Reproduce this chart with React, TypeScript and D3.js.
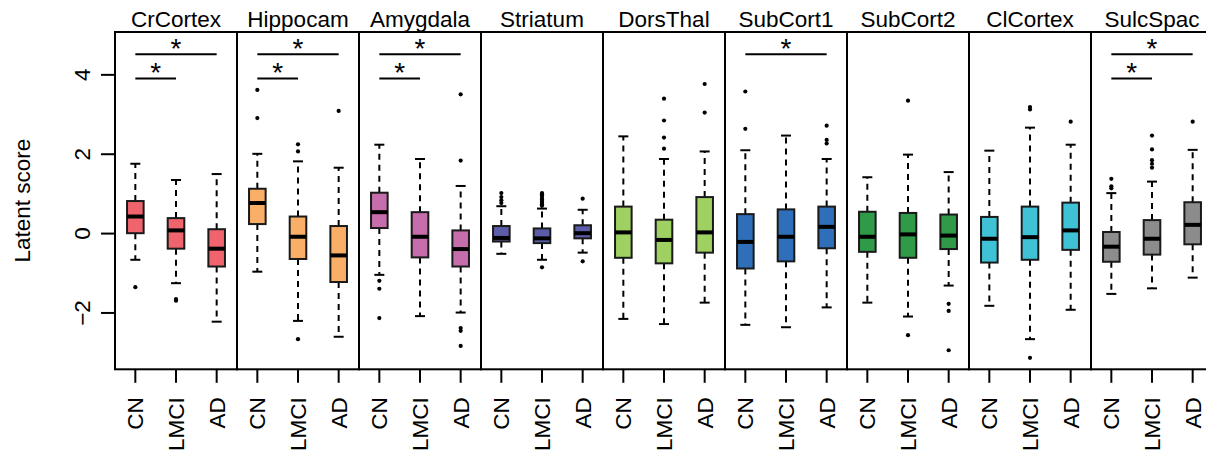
import React from "react";
import * as d3 from "d3";

const regions = ["CrCortex", "Hippocam", "Amygdala", "Striatum", "DorsThal", "SubCort1", "SubCort2", "ClCortex", "SulcSpac"];
const groups = ["CN", "LMCI", "AD"];
const colors = ["#F0646E", "#F9AF67", "#C66DAC", "#5C5DA8", "#9FD062", "#2F6EB8", "#2F9A47", "#40C2D6", "#8C8C8C"];
const yTicks = [-2, 0, 2, 4];

// per region: [CN, LMCI, AD]
const whiskerHigh = [
  [1.76, 1.35, 1.5], [2.01, 1.82, 1.66], [2.24, 1.88, 1.2],
  [0.69, 0.63, 0.6], [2.45, 1.88, 2.07], [2.1, 2.47, 1.88],
  [1.42, 1.99, 1.55], [2.09, 2.67, 2.24], [1.02, 1.31, 2.11],
];
const q3 = [
  [0.82, 0.39, 0.11], [1.13, 0.43, 0.19], [1.03, 0.54, 0.08],
  [0.19, 0.13, 0.21], [0.68, 0.35, 0.92], [0.49, 0.61, 0.68],
  [0.55, 0.52, 0.48], [0.42, 0.68, 0.78], [0.04, 0.34, 0.79],
];
const medians = [
  [0.43, 0.08, -0.38], [0.77, -0.08, -0.55], [0.54, -0.08, -0.39],
  [-0.11, -0.12, 0.01], [0.03, -0.16, 0.03], [-0.21, -0.08, 0.17],
  [-0.08, -0.02, -0.05], [-0.13, -0.09, 0.08], [-0.33, -0.13, 0.22],
];
const q1 = [
  [0.01, -0.38, -0.83], [0.24, -0.64, -1.22], [0.14, -0.6, -0.83],
  [-0.2, -0.24, -0.12], [-0.61, -0.75, -0.48], [-0.88, -0.7, -0.37],
  [-0.46, -0.61, -0.39], [-0.73, -0.66, -0.41], [-0.71, -0.53, -0.27],
];
const whiskerLow = [
  [-0.66, -1.25, -2.22], [-0.96, -2.2, -2.6], [-1.04, -2.08, -1.99],
  [-0.51, -0.66, -0.48], [-2.15, -2.28, -1.74], [-2.3, -2.36, -1.86],
  [-1.74, -2.09, -1.31], [-1.82, -2.66, -1.92], [-1.52, -1.38, -1.11],
];
const outliers = [
  [[-1.35], [-1.65, -1.69], []],
  [[3.62, 2.91], [2.25, 2.07, -2.66], [3.09]],
  [[-1.19, -1.39, -2.13], [], [3.51, 1.84, -2.38, -2.45, -2.83]],
  [[0.77, 0.84, 0.92, 1.02], [0.7, 0.74, 0.78, 0.82, 0.86, 0.9, 0.95, 0.99, 1.02, -0.85], [0.88, -0.7]],
  [[], [3.4, 2.85, 2.42, 2.14], [3.77, 3.05]],
  [[3.58, 2.64], [], [2.72, 2.36, 2.27]],
  [[], [3.35, -2.56], [-1.77, -1.95, -2.94]],
  [[], [3.19, 3.13, -3.13], [2.82]],
  [[1.38, 1.19, 1.14], [2.47, 2.12, 1.85, 1.76, 1.66], [2.82]],
];
// significance brackets per region: [from group, to group, y level]
const sigPairs = [
  [["CN", "LMCI", 3.91], ["CN", "AD", 4.52]],
  [["CN", "LMCI", 3.91], ["CN", "AD", 4.52]],
  [["CN", "LMCI", 3.91], ["CN", "AD", 4.52]],
  [], [],
  [["CN", "AD", 4.52]],
  [], [],
  [["CN", "LMCI", 3.91], ["CN", "AD", 4.52]],
];

const W = 1206, H = 453;
const plotLeft = 115, plotTop = 32, plotBottom = 369.3;
const panelW = 122;
const font = "'Liberation Sans', Arial, Helvetica, sans-serif";
const fs = 22.5;

export default function App() {
  const y = d3.scaleLinear().domain([-3.42, 5.08]).range([plotBottom, plotTop]);
  const panelX = d3.scaleBand<string>().domain(regions).range([plotLeft, plotLeft + panelW * regions.length]).padding(0);
  const gx = d3.scaleBand<string>().domain(groups).range([0, panelW]).padding(0);
  const boxHalf = 8.3, capHalf = 5;

  return (
    <svg width={W} height={H} style={{ position: "absolute", left: 0, top: 0, background: "#fff" }} fontFamily={font}>
      {/* y axis */}
      <line x1={plotLeft} x2={plotLeft} y1={plotTop} y2={plotBottom} stroke="#000" strokeWidth={2} />
      {yTicks.map((t) => (
        <g key={t}>
          <line x1={plotLeft - 14} x2={plotLeft} y1={y(t)} y2={y(t)} stroke="#000" strokeWidth={2} />
          <text transform={`translate(${89.5},${y(t)}) rotate(-90)`} textAnchor="middle" fontSize={fs}>
            {t < 0 ? "\u2212" + Math.abs(t) : String(t)}
          </text>
        </g>
      ))}
      <text transform={`translate(29.5,${(plotTop + plotBottom) / 2}) rotate(-90)`} textAnchor="middle" fontSize={fs}>
        Latent score
      </text>

      {regions.map((r, ri) => {
        const x0 = panelX(r)!;
        const cx = (g: string) => x0 + gx(g)! + gx.bandwidth() / 2;
        return (
          <g key={r}>
            <rect x={x0} y={plotTop} width={panelW} height={plotBottom - plotTop} fill="none" stroke="#000" strokeWidth={2} />
            <text x={x0 + panelW / 2} y={26.5} textAnchor="middle" fontSize={fs}>{r}</text>
            {groups.map((g, gi) => {
              const c = cx(g);
              return (
                <g key={g}>
                  <line x1={c} x2={c} y1={plotBottom} y2={plotBottom + 13.5} stroke="#000" strokeWidth={2} />
                  <text transform={`translate(${c + 8},${plotBottom + 28}) rotate(-90)`} textAnchor="end" fontSize={fs}>{g}</text>
                  {/* whiskers */}
                  <line x1={c} x2={c} y1={y(q3[ri][gi])} y2={y(whiskerHigh[ri][gi])} stroke="#000" strokeWidth={2} strokeDasharray="6,5" />
                  <line x1={c} x2={c} y1={y(q1[ri][gi])} y2={y(whiskerLow[ri][gi])} stroke="#000" strokeWidth={2} strokeDasharray="6,5" />
                  <line x1={c - capHalf} x2={c + capHalf} y1={y(whiskerHigh[ri][gi])} y2={y(whiskerHigh[ri][gi])} stroke="#000" strokeWidth={2} />
                  <line x1={c - capHalf} x2={c + capHalf} y1={y(whiskerLow[ri][gi])} y2={y(whiskerLow[ri][gi])} stroke="#000" strokeWidth={2} />
                  <rect x={c - boxHalf} y={y(q3[ri][gi])} width={boxHalf * 2} height={y(q1[ri][gi]) - y(q3[ri][gi])} fill={colors[ri]} stroke="#1a1a1a" strokeWidth={2} />
                  <line x1={c - boxHalf} x2={c + boxHalf} y1={y(medians[ri][gi])} y2={y(medians[ri][gi])} stroke="#000" strokeWidth={4} />
                  {outliers[ri][gi].map((o, oi) => (
                    <circle key={oi} cx={c} cy={y(o)} r={2.1} fill="#000" />
                  ))}
                </g>
              );
            })}
            {sigPairs[ri].map(([a, b, lv], si) => {
              const xa = cx(a as string), xb = cx(b as string);
              const yy = y(lv as number);
              return (
                <g key={si}>
                  <line x1={xa} x2={xb} y1={yy} y2={yy} stroke="#000" strokeWidth={2} />
                  <text x={(xa + xb) / 2} y={yy + 4} textAnchor="middle" fontSize={28}>*</text>
                </g>
              );
            })}
          </g>
        );
      })}
    </svg>
  );
}
